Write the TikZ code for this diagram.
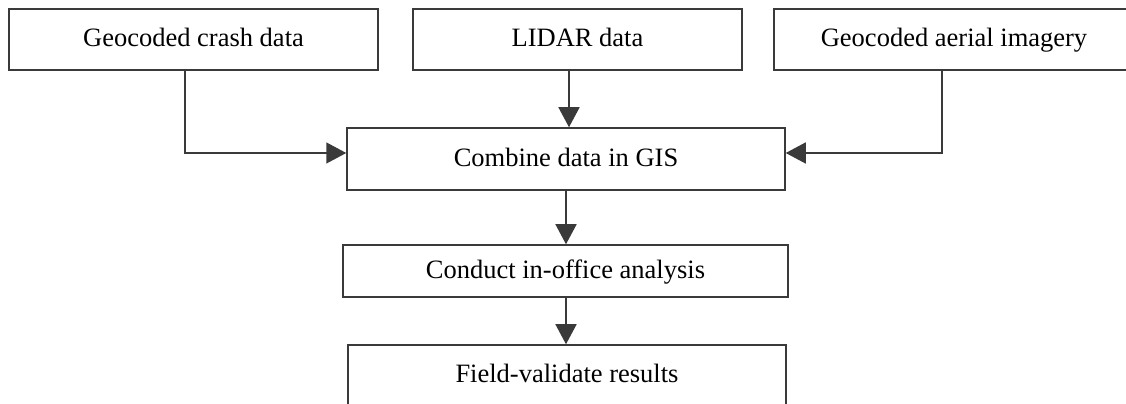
\documentclass[tikz,border=0pt]{standalone}
\usepackage{fontspec}
\setmainfont{Liberation Serif}
\usepackage{tikz}
\usetikzlibrary{arrows.meta}
\usetikzlibrary{positioning}

\definecolor{linegray}{HTML}{3A3A3A}
\tikzset{
    box/.style={draw=linegray,line width=0.6pt,rectangle,inner sep=0pt,text height=0.78em,text depth=0.18em,font=\fontsize{10.6}{12}\selectfont},
    arr/.style={draw=linegray,line width=0.6pt,-{Triangle[length=8pt,width=8.4pt]}}
}

\begin{document}
\begin{tikzpicture}[x=0.4pt,y=-0.4pt]

    \clip(0,0)rectangle(1126,404);

    \node[box,minimum width=369*0.4pt,minimum height=61*0.4pt](crash)at(193.5,39.5){Geocoded crash data};

    \node[box,minimum width=329*0.4pt,minimum height=61*0.4pt](lidar)at(577.5,39.5){LIDAR data};

    \node[box,minimum width=360*0.4pt,minimum height=61*0.4pt](aerial)at(954,39.5){Geocoded aerial imagery};

    \node[box,minimum width=438*0.4pt,minimum height=62*0.4pt](gis)at(566,159){Combine data in GIS};

    \node[box,minimum width=445*0.4pt,minimum height=52*0.4pt](office)at(565.5,271){Conduct in-office analysis};

    \node[box,minimum width=438*0.4pt,minimum height=60*0.4pt](field)at(567,375){Field-validate results};

    \draw[arr](crash.south -| 185,0)|-(gis.west |- 0,153);
    \draw[arr](aerial.south -| 942,0)|-(gis.east |- 0,153);
    \draw[arr](lidar.south -| 569,0)--(gis.north -| 569,0);
    \draw[arr](gis.south -| 566,0)--(office.north -| 566,0);
    \draw[arr](office.south -| 566,0)--(field.north -| 566,0);

\end{tikzpicture}
\end{document}
